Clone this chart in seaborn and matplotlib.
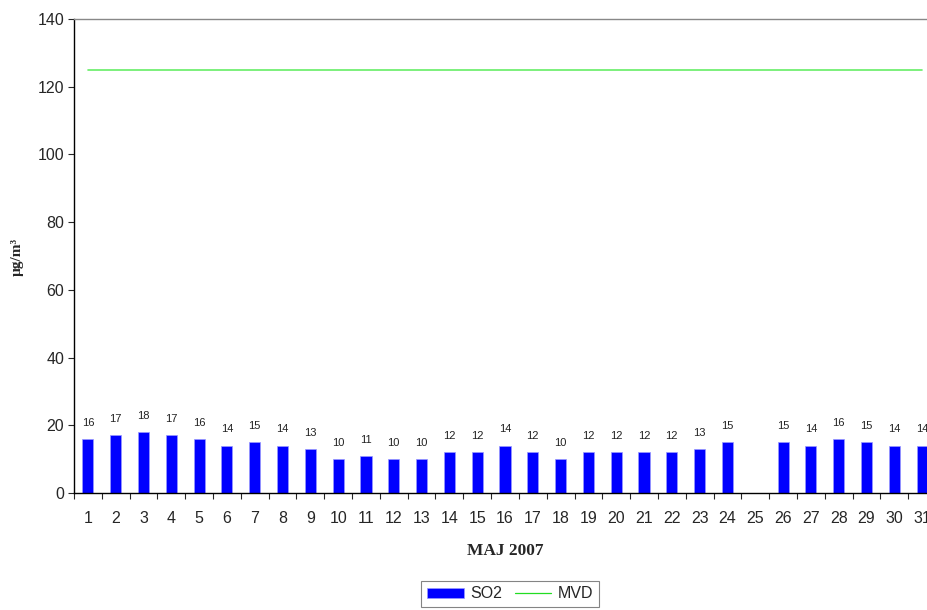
import numpy as np
import pandas as pd
import matplotlib
matplotlib.use("Agg")
import matplotlib.pyplot as plt
from matplotlib.patches import Patch
from matplotlib.lines import Line2D
import seaborn as sns

# Daily SO2 concentrations for May 2007 (day 25 has no measurement)
days = [str(d) for d in range(1, 32)]
so2 = [16, 17, 18, 17, 16, 14, 15, 14, 13, 10, 11, 10, 10, 12, 12, 14,
       12, 10, 12, 12, 12, 12, 13, 15, np.nan, 15, 14, 16, 15, 14, 14]
MVD_LIMIT = 125
mvd = [MVD_LIMIT] * len(days)
y_ticks = [0, 20, 40, 60, 80, 100, 120, 140]

df = pd.DataFrame({"day": days, "SO2": so2, "MVD": mvd})

sns.set_style("white")
plt.rcParams["font.family"] = ["Liberation Sans", "DejaVu Sans"]
serif = ["Liberation Serif", "DejaVu Serif"]

fig = plt.figure(figsize=(9.28, 6.10), dpi=100)
ax = fig.add_axes([74 / 928, 1 - 493 / 610, 862 / 928, 474 / 610])

sns.barplot(data=df, x="day", y="SO2", order=days, color="#0000ff",
            width=0.4, saturation=1, edgecolor="#9999ff", linewidth=0.5,
            ax=ax, errorbar=None)
sns.lineplot(data=df, x="day", y="MVD", color="#66ee66", linewidth=1.2,
             ax=ax)

# value labels above each bar
for i, v in enumerate(so2):
    if np.isnan(v):
        continue
    ax.annotate(f"{v:.0f}", (i, v), xytext=(0, 8), textcoords="offset points",
                ha="center", va="bottom", fontsize=8, color="#222222")

ax.set_xlim(-0.5, len(days) - 0.5)
ax.set_ylim(0, 140)
ax.set_yticks(y_ticks)
ax.tick_params(axis="y", labelsize=11.5, length=4, width=0.8, direction="out",
               left=True, pad=3)
ax.set_xticks(range(len(days)))
ax.set_xticks(np.arange(-0.5, len(days), 1.0), minor=True)
ax.tick_params(axis="x", which="major", length=0, labelsize=11.5, pad=13)
ax.tick_params(axis="x", which="minor", length=4, width=0.8, direction="out",
               bottom=True)

for side in ["left", "bottom"]:
    ax.spines[side].set_color("black")
    ax.spines[side].set_linewidth(1.0)
ax.spines["top"].set_color("#888888")
ax.spines["top"].set_linewidth(1.0)
ax.spines["right"].set_visible(False)

ax.set_xlabel("")
ax.set_ylabel("")
fig.text(505 / 928, 1 - 551 / 610, "MAJ 2007", fontfamily=serif,
         fontweight="bold", fontsize=12.5, ha="center", va="center")
fig.text(17 / 928, 1 - 257 / 610, "µg/m³", fontfamily=serif,
         fontweight="bold", fontsize=11, ha="center", va="center",
         rotation=90)

handles = [Patch(facecolor="#0000ff", edgecolor="#9999ff", linewidth=0.5),
           Line2D([], [], color="#22dd22", linewidth=0.9)]
leg = fig.legend(handles, ["SO2", "MVD"], loc="center",
                 bbox_to_anchor=(510 / 928, 1 - 594 / 610), ncol=2,
                 frameon=True, fancybox=False, fontsize=11.5,
                 handlelength=2.3, handleheight=0.55, handletextpad=0.4,
                 columnspacing=0.8, borderpad=0.35)
leg.get_frame().set_edgecolor("#666666")
leg.get_frame().set_linewidth(0.8)

fig.savefig("out.png", dpi=100)
